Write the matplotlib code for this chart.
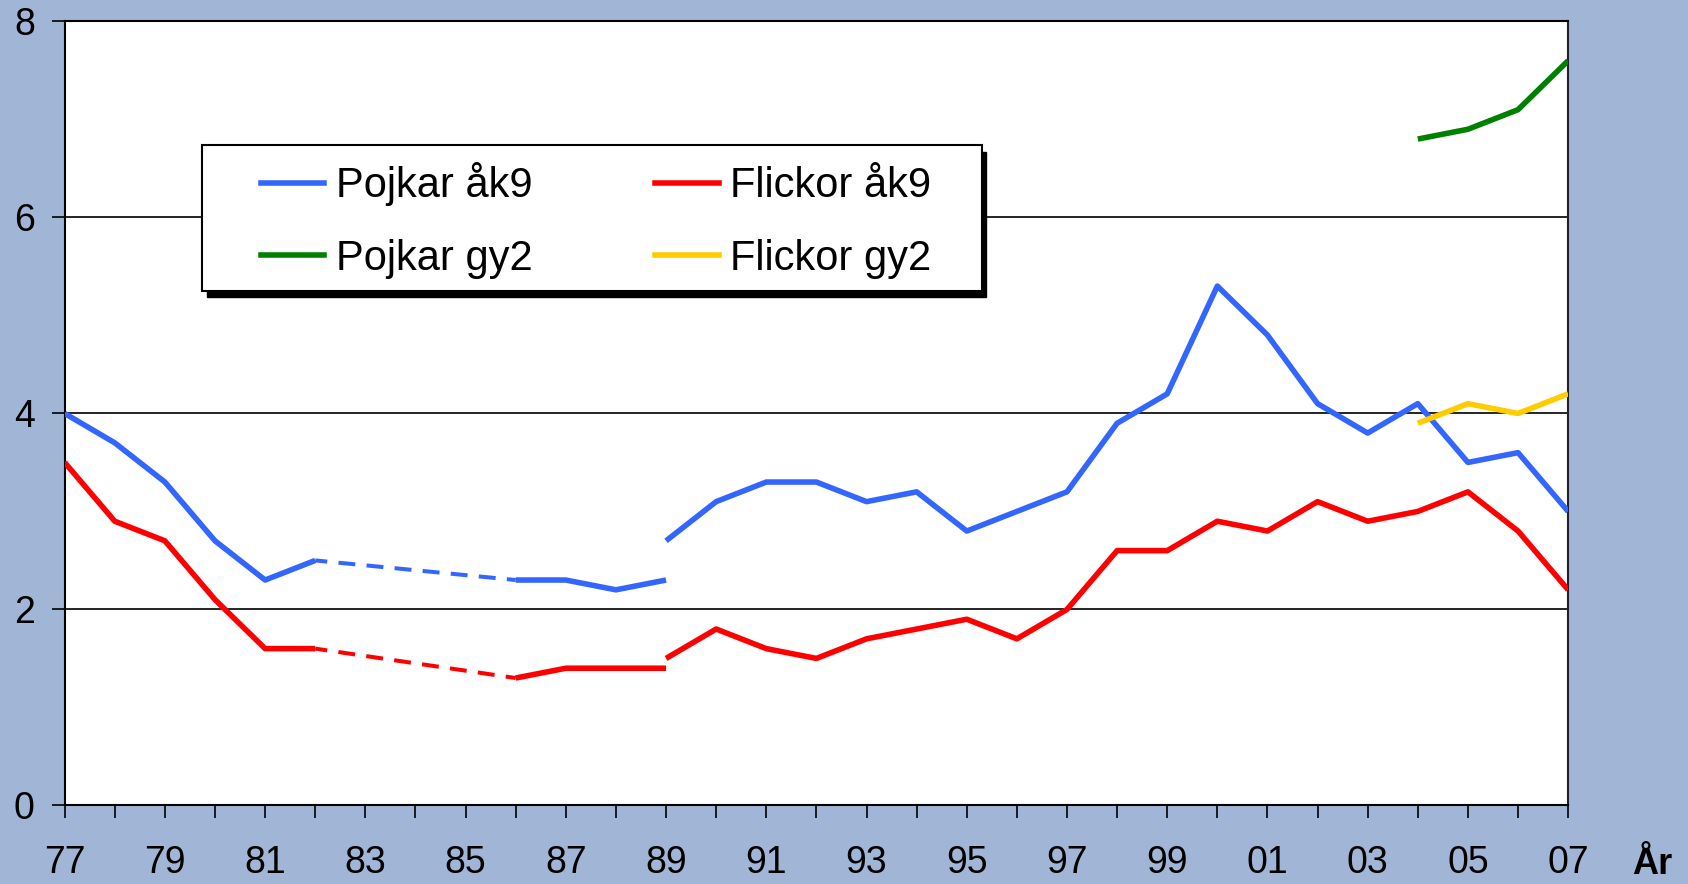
import numpy as np
import matplotlib
matplotlib.use("Agg")
import matplotlib.pyplot as plt
from matplotlib.patches import Rectangle
from matplotlib.lines import Line2D

# ---- data ----
years_old = [1977, 1978, 1979, 1980, 1981, 1982, 1983, 1984, 1985, 1986, 1987, 1988, 1989]
pojkar_ak9_old = [4.0, 3.7, 3.3, 2.7, 2.3, 2.5, np.nan, np.nan, np.nan, 2.3, 2.3, 2.2, 2.3]
flickor_ak9_old = [3.5, 2.9, 2.7, 2.1, 1.6, 1.6, np.nan, np.nan, np.nan, 1.3, 1.4, 1.4, 1.4]

years_new = list(range(1989, 2008))
pojkar_ak9_new = [2.7, 3.1, 3.3, 3.3, 3.1, 3.2, 2.8, 3.0, 3.2, 3.9, 4.2, 5.3, 4.8, 4.1, 3.8, 4.1, 3.5, 3.6, 3.0]
flickor_ak9_new = [1.5, 1.8, 1.6, 1.5, 1.7, 1.8, 1.9, 1.7, 2.0, 2.6, 2.6, 2.9, 2.8, 3.1, 2.9, 3.0, 3.2, 2.8, 2.2]

years_gy2 = [2004, 2005, 2006, 2007]
pojkar_gy2 = [6.8, 6.9, 7.1, 7.6]
flickor_gy2 = [3.9, 4.1, 4.0, 4.2]

labels = ["Pojkar åk9", "Flickor åk9", "Pojkar gy2", "Flickor gy2"]
tick_years = list(range(1977, 2008, 2))
yticks = [0, 2, 4, 6, 8]
xlabel_text = "År"

# ---- style ----
BG = "#A1B5D6"
C_BLUE = "#3366FF"
C_RED = "#FF0000"
C_GREEN = "#008000"
C_YELLOW = "#FFCC00"
LW = 4.0
LW_DASH = 2.9
FONT = "Liberation Sans"
plt.rcParams["font.family"] = [FONT, "DejaVu Sans"]

fig = plt.figure(figsize=(16.88, 8.84), dpi=100, facecolor=BG)
ax = fig.add_axes([0.0383, 0.0889, 0.929 - 0.0383, 0.9757 - 0.0889])
ax.set_facecolor("white")


def plot_with_gaps(ax, x, y, color):
    x = np.asarray(x, float)
    y = np.asarray(y, float)
    valid = ~np.isnan(y)
    seg_x, seg_y = [], []
    for xi, yi, v in zip(x, y, valid):
        if v:
            seg_x.append(xi); seg_y.append(yi)
        else:
            if len(seg_x) > 1:
                ax.plot(seg_x, seg_y, color=color, lw=LW, solid_capstyle="butt", zorder=3)
            seg_x, seg_y = [], []
    if len(seg_x) > 1:
        ax.plot(seg_x, seg_y, color=color, lw=LW, solid_capstyle="butt", zorder=3)
    idx = np.where(valid)[0]
    for a, b in zip(idx[:-1], idx[1:]):
        if b - a > 1:
            ax.plot([x[a], x[b]], [y[a], y[b]], color=color, lw=LW_DASH,
                    linestyle=(1.2, (4.2, 2.8)), dash_capstyle="butt", zorder=3)


plot_with_gaps(ax, years_old, pojkar_ak9_old, C_BLUE)
plot_with_gaps(ax, years_old, flickor_ak9_old, C_RED)
ax.plot(years_new, pojkar_ak9_new, color=C_BLUE, lw=LW, solid_capstyle="butt", zorder=3)
ax.plot(years_new, flickor_ak9_new, color=C_RED, lw=LW, solid_capstyle="butt", zorder=3)
ax.plot(years_gy2, pojkar_gy2, color=C_GREEN, lw=LW, solid_capstyle="butt", zorder=3)
ax.plot(years_gy2, flickor_gy2, color=C_YELLOW, lw=LW, solid_capstyle="butt", zorder=3)

ax.set_xlim(1977, 2007)
ax.set_ylim(0, 8)
ax.set_yticks(yticks)
ax.set_yticklabels([str(v) for v in yticks])
ax.set_xticks(list(range(1977, 2008)))
ax.set_xticklabels([f"{y % 100:02d}" if y in tick_years else "" for y in range(1977, 2008)])
ax.tick_params(axis="both", direction="out", length=9.5, width=1.2, color="black",
               labelsize=27)
ax.tick_params(axis="x", pad=19)
ax.tick_params(axis="y", pad=12)
for t in ax.get_xticklabels() + ax.get_yticklabels():
    t.set_fontfamily([FONT, "DejaVu Sans"])

for y in yticks[1:]:
    ax.axhline(y, color="black", lw=1.2, zorder=1)
for s in ax.spines.values():
    s.set_color("black")
    s.set_linewidth(1.5)
ax.spines["right"].set_color("#202030")

# legend box with shadow
x0, x1, y0, y1 = 0.0916, 0.610, 0.6566, 0.842
shadow = Rectangle((x0 + 0.003, y0 - 0.008), x1 - x0, y1 - y0, transform=ax.transAxes,
                   facecolor="black", edgecolor="black", zorder=4)
box = Rectangle((x0, y0), x1 - x0, y1 - y0, transform=ax.transAxes,
                facecolor="white", edgecolor="black", lw=1.5, zorder=5)
ax.add_patch(shadow)
ax.add_patch(box)

handles = [Line2D([], [], color=C_BLUE, lw=LW),
           Line2D([], [], color=C_GREEN, lw=LW),
           Line2D([], [], color=C_RED, lw=LW),
           Line2D([], [], color=C_YELLOW, lw=LW)]
hl = [labels[0], labels[2], labels[1], labels[3]]
leg = ax.legend(handles, hl, ncol=2, loc="center left",
                bbox_to_anchor=(0.1304, 0.7461), bbox_transform=ax.transAxes,
                frameon=False, fontsize=30, handlelength=1.53, handletextpad=0.28,
                columnspacing=2.93, labelspacing=0.78, borderpad=0, borderaxespad=0)
leg.set_zorder(6)

fig.text(0.979, 0.022, xlabel_text, fontsize=26, fontweight="bold", ha="center", va="center",
         family=[FONT, "DejaVu Sans"])

fig.savefig("out.png", dpi=100, facecolor=BG)
